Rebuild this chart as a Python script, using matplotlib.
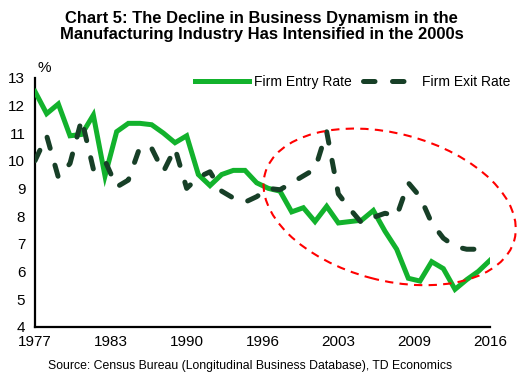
import matplotlib
matplotlib.use("Agg")
import matplotlib.pyplot as plt
from matplotlib.patches import Ellipse

plt.rcParams["font.family"] = ["Liberation Sans", "DejaVu Sans"]

# ── Data ───────────────────────────────────────────────────────────────────────
years = list(range(1977, 2017))
entry_rate = [12.5, 11.7, 12.05, 10.9, 10.95, 11.65, 9.45, 11.05, 11.35, 11.35,
              11.3, 11.0, 10.65, 10.9, 9.5, 9.1, 9.5, 9.65, 9.65, 9.2,
              9.0, 8.9, 8.15, 8.3, 7.8, 8.35, 7.75, 7.8, 7.85, 8.2,
              7.45, 6.8, 5.75, 5.65, 6.35, 6.1, 5.35, 5.7, 6.0, 6.4]
exit_rate = [10.0, 10.9, 9.4, 9.9, 11.5, 9.7, 10.0, 9.05, 9.3, 10.5,
             10.45, 9.6, 10.45, 9.0, 9.4, 9.6, 8.9, 8.65, 8.5, 8.7,
             9.0, 8.95, 9.2, 9.45, 9.7, 11.05, 8.8, 8.25, 7.75, 7.95,
             8.1, 8.0, 9.2, 8.7, 7.75, 7.2, 6.9, 6.8, 6.8, 6.8]
x_tick_pos = [1977, 1983.5, 1990, 1996.5, 2003, 2009.5, 2016]
x_tick_lab = ["1977", "1983", "1990", "1996", "2003", "2009", "2016"]
y_ticks = list(range(4, 14))

GREEN = "#12B22C"
DARK = "#173F27"
W, H = 518, 385

# ── Figure ─────────────────────────────────────────────────────────────────────
fig = plt.figure(figsize=(W / 100, H / 100), dpi=100)
ax = fig.add_axes([35 / W, (H - 326.7) / H, (490 - 35) / W, (326.7 - 77.7) / H])

ax.plot(years, entry_rate, color=GREEN, lw=3.6, solid_joinstyle="miter",
        label="Firm Entry Rate", zorder=3)
ax.plot(years, exit_rate, color=DARK, lw=3.6, dashes=(2.3, 3.5),
        dash_capstyle="round", label="Firm Exit Rate", zorder=4)

ax.set_xlim(1977, 2016)
ax.set_ylim(4, 13)
ax.set_yticks(y_ticks)
ax.set_xticks(x_tick_pos)
ax.set_xticklabels(x_tick_lab)
ax.tick_params(length=0, labelsize=11)
ax.tick_params(axis="y", pad=7)
ax.tick_params(axis="x", pad=6)
for side in ("top", "right"):
    ax.spines[side].set_visible(False)
for side in ("left", "bottom"):
    ax.spines[side].set_linewidth(1.6)
    ax.spines[side].set_color("black")

fig.text(38 / W, 1 - 72 / H, "%", fontsize=11, va="baseline", ha="left")

ax.legend(ncol=2, loc="center left", bbox_to_anchor=(195 / W, 1 - 81.7 / H),
          bbox_transform=fig.transFigure, frameon=False, fontsize=10,
          handlelength=3.9, handletextpad=0.33, columnspacing=0.85,
          borderpad=0, borderaxespad=0)

# red dashed ellipse round the 2000s
cx, cy = ax.transData.transform((2007.4, 8.33))
ell = Ellipse((cx / 100, cy / 100), 2.58, 1.47, angle=-14.8,
              transform=fig.dpi_scale_trans, fill=False, edgecolor="#FF0000",
              lw=1.5, linestyle=(0, (4, 3)), zorder=5)
fig.add_artist(ell)

fig.text(0.505, 1 - 11 / H,
         "Chart 5: The Decline in Business Dynamism in the\n"
         "Manufacturing Industry Has Intensified in the 2000s",
         ha="center", va="top", fontsize=11.9, fontweight="bold", linespacing=1.08)
fig.text(250 / W, 1 - 366 / H,
         "Source: Census Bureau (Longitudinal Business Database), TD Economics",
         ha="center", va="center", fontsize=8.8)

fig.savefig("out.png", dpi=100)
